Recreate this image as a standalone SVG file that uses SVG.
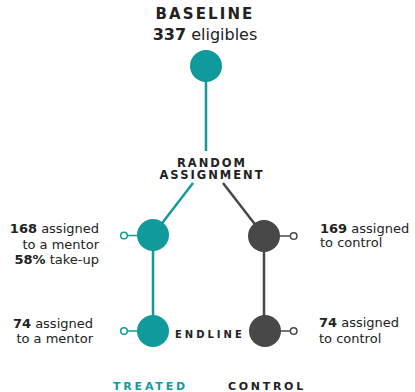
<svg xmlns="http://www.w3.org/2000/svg" width="415" height="392" viewBox="0 0 415 392">
<style>
.t{font-family:"DejaVu Sans",sans-serif;fill:#222}
.lbl{font-size:13px}
.b{font-weight:bold}
.cap{font-weight:bold}
.teal{fill:#119a9c}
.dark{fill:#484848}
.lt{stroke:#119a9c;stroke-width:2.5;fill:none}
.ld{stroke:#484848;stroke-width:2.5;fill:none}
.st{stroke:#119a9c;stroke-width:1.5}
.sd{stroke:#484848;stroke-width:1.5}
.dot{fill:#fff}
</style>
<rect width="415" height="392" fill="#fff"/>
<g id="connectors">
<line class="lt" x1="206" y1="80" x2="206" y2="151"/>
<line class="lt" x1="193" y1="183" x2="153" y2="235"/>
<line class="ld" x1="223" y1="183" x2="264" y2="236"/>
<line class="lt" x1="153" y1="235" x2="153" y2="331"/>
<line class="ld" x1="264" y1="236" x2="264" y2="331"/>
</g>
<g id="baseline">
<text class="t cap" x="205" y="19" font-size="15" letter-spacing="2.1" text-anchor="middle">BASELINE</text>
<text class="t" x="205" y="40" font-size="16" text-anchor="middle"><tspan class="b">337</tspan> eligibles</text>
<circle class="teal" cx="206" cy="66" r="16"/>
</g>
<g id="random-assignment">
<text class="t cap" x="212" y="166.5" font-size="11.5" letter-spacing="2" text-anchor="middle">RANDOM</text>
<text class="t cap" x="212" y="179" font-size="11.5" letter-spacing="2" text-anchor="middle">ASSIGNMENT</text>
</g>
<g id="treated-assigned">
<line class="st" x1="127" y1="235.5" x2="140" y2="235.5"/>
<circle class="dot st" cx="124" cy="235.5" r="3.3"/>
<circle class="teal" cx="153" cy="235" r="16"/>
<text class="t lbl" x="99" y="233" text-anchor="end"><tspan class="b">168</tspan> assigned</text>
<text class="t lbl" x="99" y="249" text-anchor="end">to a mentor</text>
<text class="t lbl" x="99" y="264" text-anchor="end"><tspan class="b">58%</tspan> take-up</text>
</g>
<g id="control-assigned">
<line class="sd" x1="278" y1="236" x2="290.5" y2="236"/>
<circle class="dot sd" cx="293.7" cy="236" r="3.3"/>
<circle class="dark" cx="264" cy="236" r="16"/>
<text class="t lbl" x="320" y="233"><tspan class="b">169</tspan> assigned</text>
<text class="t lbl" x="320" y="247">to control</text>
</g>
<g id="treated-endline">
<line class="st" x1="127" y1="331" x2="140" y2="331"/>
<circle class="dot st" cx="124" cy="331" r="3.3"/>
<circle class="teal" cx="153" cy="331" r="16"/>
<text class="t lbl" x="93" y="328" text-anchor="end"><tspan class="b">74</tspan> assigned</text>
<text class="t lbl" x="93" y="343" text-anchor="end">to a mentor</text>
</g>
<g id="endline">
<text class="t cap" x="175" y="338" font-size="10" letter-spacing="3">ENDLINE</text>
</g>
<g id="control-endline">
<line class="sd" x1="278" y1="331" x2="290.5" y2="331"/>
<circle class="dot sd" cx="293.7" cy="331" r="3.3"/>
<circle class="dark" cx="265" cy="331" r="16"/>
<text class="t lbl" x="319" y="327"><tspan class="b">74</tspan> assigned</text>
<text class="t lbl" x="319" y="343">to control</text>
</g>
<g id="legend">
<text class="cap" x="113" y="390" font-size="11" letter-spacing="2.8" font-family="DejaVu Sans, sans-serif" fill="#119a9c">TREATED</text>
<text class="t cap" x="228" y="390" font-size="11" letter-spacing="2.7">CONTROL</text>
</g>
</svg>
